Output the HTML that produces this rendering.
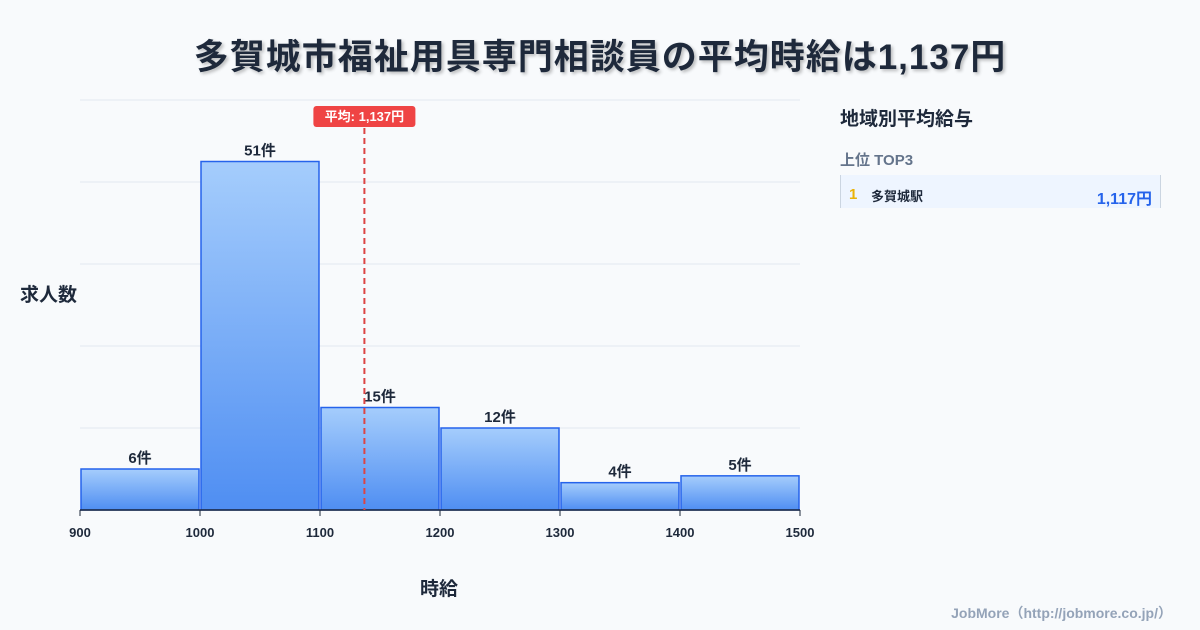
<!DOCTYPE html>
<html><head><meta charset="utf-8"><style>
body{margin:0;width:1200px;height:630px;background:#f8fafc;font-family:"Liberation Sans","Noto Sans CJK JP",sans-serif;position:relative;overflow:hidden;color:#1e293b}
.t{position:absolute;font-weight:bold}
</style></head><body>
<div class="t" style="left:0;width:1200px;top:29px;text-align:center;font-size:35px;letter-spacing:1px;color:#1e293b;text-shadow:2px 2px 3px rgba(0,0,0,.25)">多賀城市福祉用具専門相談員の平均時給は1,137円</div>
<div class="t" style="left:20px;top:280px;font-size:19px">求人数</div>
<div class="t" style="left:420px;top:574px;font-size:19px">時給</div>
<svg id="c" width="1200" height="630" style="position:absolute;left:0;top:0">
<defs><linearGradient id="g" x1="0" y1="0" x2="0" y2="1"><stop offset="0" stop-color="#a5cdfc"/><stop offset="1" stop-color="#4f8ef2"/></linearGradient></defs>
</svg>
<div class="t" style="left:840px;top:104px;font-size:19px">地域別平均給与</div>
<div class="t" style="left:840px;top:149px;font-size:15px;color:#64748b">上位 TOP3</div>
<div style="position:absolute;left:840px;top:175px;width:321px;height:33px;background:#eef5ff;border-left:1px solid #cbd5e1;border-right:1px solid #cbd5e1;box-sizing:border-box">
<span class="t" style="left:8px;top:11px;font-size:15px;color:#eab308">1</span>
<span class="t" style="left:30px;top:11px;font-size:13px">多賀城駅</span>
<span class="t" style="right:8px;top:10px;font-size:16px;color:#2563eb">1,117円</span>
</div>
<div class="t" style="right:28px;top:603px;font-size:14px;color:#94a3b8">JobMore（http://jobmore.co.jp/）</div>
<script>
const binStarts=[900,1000,1100,1200,1300,1400];
const counts=[6,51,15,12,4,5];
const xTicks=[900,1000,1100,1200,1300,1400,1500];
const meanValue=1137;
const meanLabel="平均: 1,137円";
const yMax=60, yStep=12;
const NS="http://www.w3.org/2000/svg";
const svg=document.getElementById('c');
const X=v=>80+(v-900)*1.2, Y=v=>510-v*410/yMax;
function el(t,a,p){const e=document.createElementNS(NS,t);for(const k in a)e.setAttribute(k,a[k]);(p||svg).appendChild(e);return e;}
for(let v=yStep;v<=yMax;v+=yStep){const l=el('line',{x1:80,x2:800,y1:Y(v),y2:Y(v),stroke:'#e2e8f0'});}
binStarts.forEach((b,i)=>{
const r=el('rect',{x:X(b)+1,y:Y(counts[i]),width:X(b+100)-X(b)-2,height:510-Y(counts[i]),fill:'url(#g)',stroke:'#2563eb','stroke-width':1.5});


const t=el('text',{x:(X(b)+X(b+100))/2,y:Y(counts[i])-6,'text-anchor':'middle','font-size':15,'font-weight':'bold',fill:'#1e293b'});t.textContent=counts[i]+'件';


});
el('line',{x1:80,x2:800,y1:510,y2:510,stroke:'#1e293b','stroke-width':1.5});
xTicks.forEach(v=>{el('line',{x1:X(v),x2:X(v),y1:510,y2:516,stroke:'#1e293b'});
const t=el('text',{x:X(v),y:537,'text-anchor':'middle','font-size':13,'font-weight':'bold',fill:'#1e293b'});t.textContent=v;

});
const mx=X(meanValue);
const ml=el('line',{x1:mx,x2:mx,y1:128,y2:510,stroke:'#dc4444','stroke-width':2,'stroke-dasharray':'6,4'});


const mb=el('rect',{x:mx-51,y:106,width:102,height:21,rx:3,fill:'#ef4444'});


const mt=el('text',{x:mx,y:121,'text-anchor':'middle','font-size':13,'font-weight':'bold',fill:'#fff'});mt.textContent=meanLabel;


</script>
</body></html>
